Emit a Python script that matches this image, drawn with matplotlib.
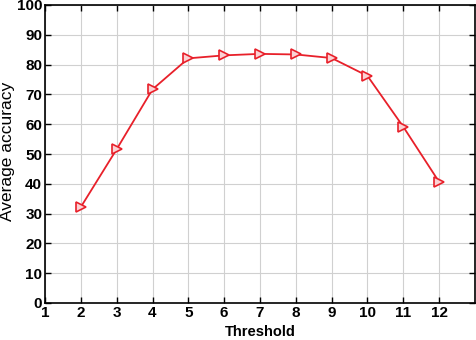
import numpy as np
import matplotlib
matplotlib.use('Agg')
import matplotlib.pyplot as plt

plt.rc('font', **{'family': 'Liberation Sans', 'weight': 'bold', 'size': 11})

threshold = [2, 3, 4, 5, 6, 7, 8, 9, 10, 11, 12]
accuracy = [32.2, 51.6, 71.7, 82.1, 83.1, 83.6, 83.4, 82.2, 76.2, 59.1, 40.6]

fig = plt.figure(figsize=(4.76, 3.4), dpi=100)
ax = fig.add_axes([45/476, 37/340, 430/476, 298/340])

ax.plot(threshold, accuracy, color='#e8202a', linewidth=1.3, marker='>',
        markersize=7, markerfacecolor='#fbd3d5', markeredgecolor='#e8202a',
        markeredgewidth=1.2, zorder=3)

ax.set_xlim(1, 13)
ax.set_ylim(0, 100)
ax.set_xticks(range(1, 13))
ax.set_yticks(range(0, 101, 10))
ax.grid(which='major', color='#d0d0d0', linewidth=0.8)
ax.tick_params(direction='in', top=True, right=True, length=4, width=1,
               labelsize=11, pad=2)
for s in ax.spines.values():
    s.set_linewidth(1.2)

ax.set_xlabel('Threshold', fontsize=10.5, fontweight='bold', labelpad=4)
fig.text(8/476, 1 - 151/340, 'Average accuracy', rotation=90, fontsize=12.5,
         fontweight='normal', ha='center', va='center')

fig.savefig('out.png', dpi=100)
